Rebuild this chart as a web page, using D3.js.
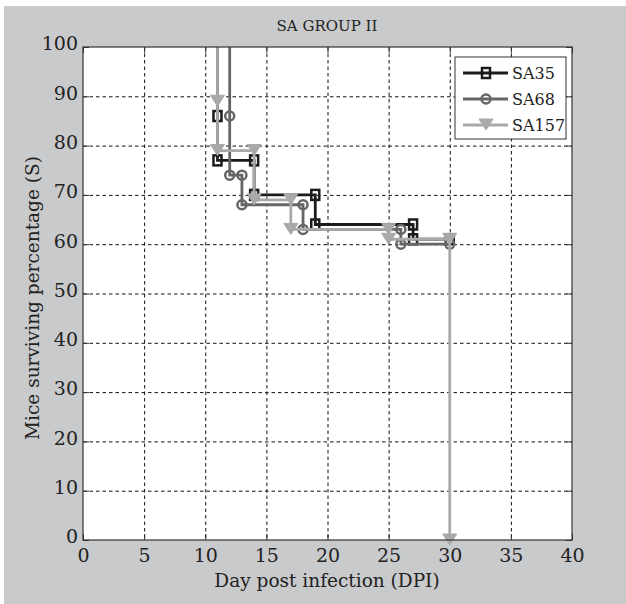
<html>
<head>
<script src="https://d3js.org/d3.v7.min.js"></script>
<style>
    body { margin: 0; background: white; }
    text { font-family: "DejaVu Serif", "Liberation Serif", serif; fill: #222; }
    .grid line { stroke: #111; stroke-dasharray: 3.5,3; stroke-width: 1; }
    .grid .domain { stroke: none; }
    .axis .domain { stroke: none; }
    .axis line { stroke: #333; }
</style>
</head>
<body>
<svg id="chart" width="626" height="604"></svg>
<script>
    // survival data (stairs), days vs percentage
    const sa35Days = [11, 11, 11, 14, 14, 19, 19, 27, 27, 30];
    const sa35Pct = [100, 86, 77, 77, 70, 70, 64, 64, 61, 61];
    const sa68Days = [12, 12, 12, 13, 13, 18, 18, 26, 26, 30];
    const sa68Pct = [100, 86, 74, 74, 68, 68, 63, 63, 60, 60];
    const sa157Days = [11, 11, 11, 14, 14, 17, 17, 25, 25, 30, 30];
    const sa157Pct = [100, 89, 79, 79, 69, 69, 63, 63, 61, 61, 0];

    const xTicks = [0, 5, 10, 15, 20, 25, 30, 35, 40];
    const yTicks = [0, 10, 20, 30, 40, 50, 60, 70, 80, 90, 100];

    const svg = d3.select("#chart");
    const margin = { top: 47, right: 54, bottom: 64, left: 83 };
    const plotWidth = 626 - margin.left - margin.right;
    const plotHeight = 604 - margin.top - margin.bottom;

    // figure background
    svg.append("rect").attr("x", 4).attr("y", 6).attr("width", 622).attr("height", 598)
        .attr("fill", "#c9cacc");

    const plot = svg.append("g").attr("transform", `translate(${margin.left},${margin.top})`);
    plot.append("rect").attr("width", plotWidth).attr("height", plotHeight).attr("fill", "white");

    const xScale = d3.scaleLinear().domain([0, 40]).range([0, plotWidth]);
    const yScale = d3.scaleLinear().domain([0, 100]).range([plotHeight, 0]);

    // gridlines
    plot.append("g").attr("class", "grid")
        .call(d3.axisBottom(xScale).tickValues(xTicks.slice(1, -1)).tickSize(plotHeight).tickFormat(""));
    plot.append("g").attr("class", "grid")
        .call(d3.axisLeft(yScale).tickValues(yTicks.slice(1, -1)).tickSize(-plotWidth).tickFormat(""));

    // ticks (inside) + labels
    let bottomAxis = d3.axisBottom(xScale).tickValues(xTicks).tickSizeInner(-6).tickSizeOuter(0).tickPadding(9);
    let leftAxis = d3.axisLeft(yScale).tickValues(yTicks).tickSizeInner(-6).tickSizeOuter(0).tickPadding(5);
    plot.append("g").attr("class", "axis").attr("transform", `translate(0,${plotHeight})`).call(bottomAxis)
        .selectAll("text").style("font-size", "19px");
    plot.append("g").attr("class", "axis").call(leftAxis)
        .selectAll("text").style("font-size", "19px").attr("dy", "0.15em");
    plot.append("g").attr("class", "axis").call(d3.axisTop(xScale).tickValues(xTicks).tickSizeInner(-6).tickSizeOuter(0).tickFormat(""));
    plot.append("g").attr("class", "axis").attr("transform", `translate(${plotWidth},0)`)
        .call(d3.axisRight(yScale).tickValues(yTicks).tickSizeInner(-6).tickSizeOuter(0).tickFormat(""));

    const series = [
        { name: "SA35", days: sa35Days, pct: sa35Pct, color: "#1c1c1c", marker: "square" },
        { name: "SA68", days: sa68Days, pct: sa68Pct, color: "#666666", marker: "circle" },
        { name: "SA157", days: sa157Days, pct: sa157Pct, color: "#a9a9a9", marker: "triangle" }
    ];

    const line = d3.line().x(d => xScale(d[0])).y(d => yScale(d[1]));

    function drawMarker(g, type, x, y, color) {
        if (type === "square") {
            g.append("rect").attr("x", x - 4).attr("y", y - 5).attr("width", 8).attr("height", 10)
                .attr("fill", "none").attr("stroke", color).attr("stroke-width", 2.5);
        } else if (type === "circle") {
            g.append("circle").attr("cx", x).attr("cy", y).attr("r", 4.5)
                .attr("fill", "none").attr("stroke", color).attr("stroke-width", 2.5);
        } else {
            g.append("path").attr("d", `M${x - 7},${y - 6}L${x + 7},${y - 6}L${x},${y + 5}Z`)
                .attr("fill", color).attr("stroke", color).attr("stroke-width", 1);
        }
    }

    series.forEach(s => {
        const pts = s.days.map((d, i) => [d, s.pct[i]]);
        const g = plot.append("g");
        g.append("path").datum(pts).attr("d", line).attr("fill", "none")
            .attr("stroke", s.color).attr("stroke-width", 2.8);
        pts.slice(1).forEach(p => drawMarker(g, s.marker, xScale(p[0]), yScale(p[1]), s.color));
    });

    // plot box
    plot.append("rect").attr("width", plotWidth).attr("height", plotHeight)
        .attr("fill", "none").attr("stroke", "#333").attr("stroke-width", 1.2);

    // legend
    const legend = svg.append("g").attr("transform", "translate(455,57)");
    legend.append("rect").attr("width", 111).attr("height", 82).attr("fill", "white")
        .attr("stroke", "#333").attr("stroke-width", 1);
    series.forEach((s, i) => {
        const ly = 16 + i * 26;
        legend.append("line").attr("x1", 8).attr("x2", 53).attr("y1", ly).attr("y2", ly)
            .attr("stroke", s.color).attr("stroke-width", 2.8);
        drawMarker(legend, s.marker, 31, ly, s.color);
        legend.append("text").attr("x", 57).attr("y", ly + 6).style("font-size", "16px").text(s.name);
    });

    // titles
    svg.append("text").attr("x", 327).attr("y", 31).attr("text-anchor", "middle")
        .style("font-size", "15px").text("SA GROUP II");
    svg.append("text").attr("x", 327).attr("y", 587).attr("text-anchor", "middle")
        .style("font-size", "18.5px").text("Day post infection (DPI)");
    svg.append("text").attr("transform", "translate(39,298) rotate(-90)").attr("text-anchor", "middle")
        .style("font-size", "18.5px").text("Mice surviving percentage (S)");
</script>
</body>
</html>
